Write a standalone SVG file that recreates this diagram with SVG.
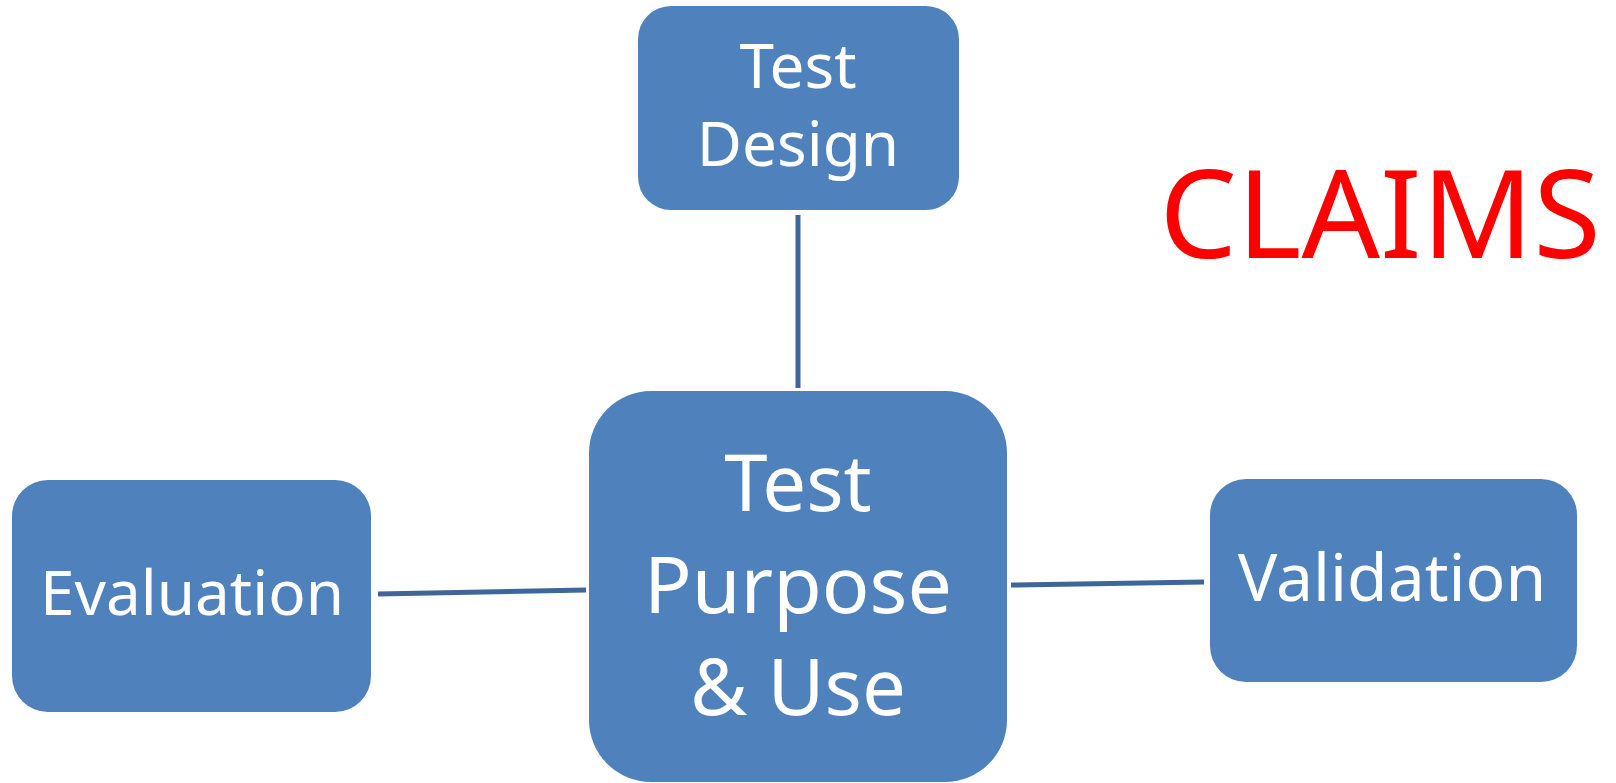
<svg xmlns="http://www.w3.org/2000/svg" width="1616" height="783" viewBox="0 0 1616 783">
<style>
.box{fill:#4f81bd;}
.lbl{fill:#ffffff;font-family:"Noto Sans","Open Sans","DejaVu Sans",sans-serif;text-anchor:middle;}
.conn{stroke:#3e6699;stroke-width:5;fill:none;}
.claims{fill:#ff0000;font-family:"Noto Sans","Open Sans","DejaVu Sans",sans-serif;text-anchor:middle;}
</style>
<rect width="1616" height="783" fill="#ffffff"/>
<g id="connectors">
<line class="conn" x1="798" y1="215" x2="798" y2="388"/>
<line class="conn" x1="378" y1="594" x2="586" y2="590"/>
<line class="conn" x1="1011" y1="585" x2="1204" y2="582"/>
</g>
<g id="test-design">
<rect class="box" x="638" y="6" width="321" height="204" rx="33" ry="33"/>
<text class="lbl" x="798" y="88" font-size="62">Test</text>
<text class="lbl" x="798" y="166" font-size="62">Design</text>
</g>
<g id="test-purpose">
<rect class="box" x="589" y="391" width="418" height="391" rx="62" ry="62"/>
<text class="lbl" x="798" y="511" font-size="78">Test</text>
<text class="lbl" x="798" y="613" font-size="79">Purpose</text>
<text class="lbl" x="798" y="715" font-size="78">&amp; Use</text>
</g>
<g id="evaluation">
<rect class="box" x="12" y="480" width="359" height="232" rx="36" ry="36"/>
<text class="lbl" x="192" y="615" font-size="62">Evaluation</text>
</g>
<g id="validation">
<rect class="box" x="1210" y="479" width="367" height="203" rx="36" ry="36"/>
<text class="lbl" x="1392" y="601" font-size="66">Validation</text>
</g>
<g id="claims">
<text class="claims" x="1380" y="258" font-size="123">CLAIMS</text>
</g>
</svg>
